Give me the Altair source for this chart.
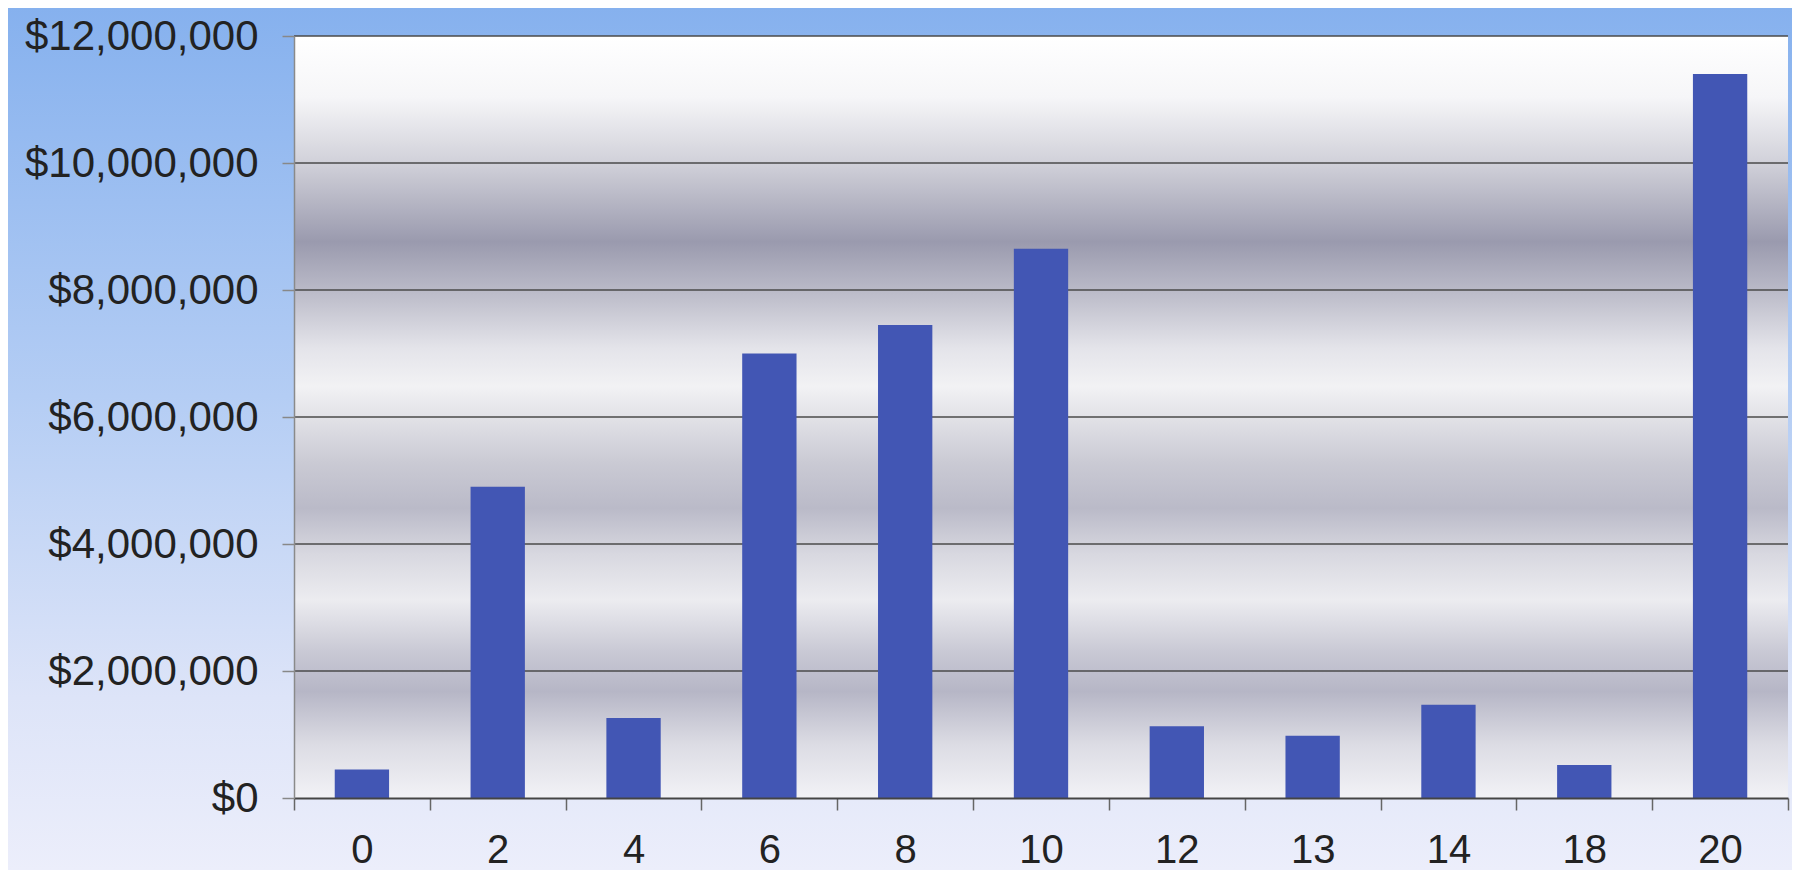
import altair as alt
import pandas as pd

categories = ["0", "2", "4", "6", "8", "10", "12", "13", "14", "18", "20"]
values = [450000, 4900000, 1260000, 7000000, 7450000, 8650000,
          1130000, 980000, 1470000, 520000, 11400000]
grid_values = [2000000, 4000000, 6000000, 8000000, 10000000, 12000000]
y_ticks = [0, 2000000, 4000000, 6000000, 8000000, 10000000, 12000000]

W, H = 1494, 762
FONT = "Liberation Sans"

bars_df = pd.DataFrame({"cat": categories, "val": values})
grid_df = pd.DataFrame({"val": grid_values})
one = pd.DataFrame({"k": [0]})

yscale = alt.Scale(domain=[0, 12000000], nice=False)
yaxis = alt.Axis(values=y_ticks, format="$,.0f", labelFont=FONT, labelFontSize=42,
                 labelColor="#222222", labelLimit=0, tickSize=12, tickColor="#888888",
                 tickWidth=1.5, labelPadding=24, domain=True, domainColor="#8a8a8a",
                 domainWidth=1.5, grid=False, title=None, zindex=1)
xaxis = alt.Axis(labelAngle=0, labelFont=FONT, labelFontSize=40, labelColor="#222222",
                 labelLimit=0, tickSize=12, tickColor="#666666", tickWidth=1.5,
                 tickBand="extent", labelPadding=20, domainColor="#444444", domainWidth=2,
                 grid=False, title=None, zindex=1)

def grad(stops):
    return alt.LinearGradient(
        gradient="linear",
        stops=[alt.GradientStop(color=c, offset=o) for o, c in stops],
        x1=0, x2=0, y1=0, y2=1)

outer = alt.Chart(one).mark_rect(
    fill=grad([(0, "#86b1ee"), (0.45, "#b4cdf4"), (0.8, "#dde4f8"), (1, "#eceefb")])
).encode(x=alt.value(-286), x2=alt.value(W + 4), y=alt.value(-28), y2=alt.value(H + 72))

plotbg = alt.Chart(one).mark_rect(
    fill=grad([(0, "#ffffff"), (0.08, "#f6f6f8"), (0.17, "#cfcfd8"), (0.27, "#9a9aae"),
               (0.33, "#b8b8c6"), (0.41, "#e4e4ea"), (0.46, "#f2f2f4"), (0.56, "#cacad4"),
               (0.62, "#babac8"), (0.68, "#d8d8e0"), (0.74, "#ececf0"), (0.81, "#c8c8d4"),
               (0.86, "#b6b6c6"), (0.93, "#dcdce4"), (1, "#f2f2f6")])
).encode(x=alt.value(0), x2=alt.value(W), y=alt.value(0), y2=alt.value(H))

grid = alt.Chart(grid_df).mark_rule(color="#4a4a4a", strokeWidth=1.5).encode(
    y=alt.Y("val:Q", scale=yscale, axis=yaxis)
)

bars = alt.Chart(bars_df).mark_bar(
    color="#4256b4", width=alt.RelativeBandSize(0.4)
).encode(
    x=alt.X("cat:N", sort=categories,
            scale=alt.Scale(paddingInner=0, paddingOuter=0), axis=xaxis),
    y=alt.Y("val:Q", scale=yscale, axis=yaxis),
)

chart = alt.layer(outer, plotbg, grid, bars).properties(
    width=W, height=H, padding=0, background="#eceefb"
).configure_view(stroke=None)

chart.save("out.html", embed_options={"renderer": "svg", "actions": False})
